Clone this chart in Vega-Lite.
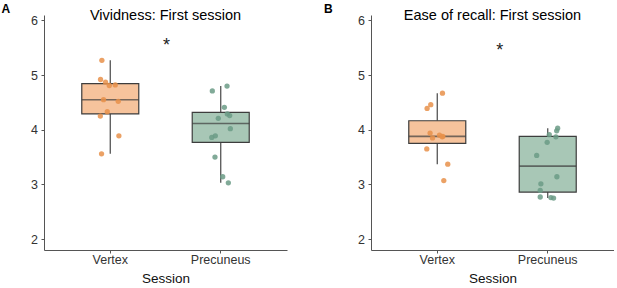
{
  "$schema": "https://vega.github.io/schema/vega-lite/v6.json",
  "padding": {"left": 1, "top": 2, "right": 0, "bottom": 0},
  "background": "white",
  "config": {
    "font": "Liberation Sans",
    "view": {"stroke": null},
    "axis": {
      "grid": false,
      "domainColor": "#555555",
      "domainWidth": 1,
      "tickColor": "#555555",
      "tickWidth": 1,
      "tickSize": 3,
      "labelColor": "#333333",
      "labelFontSize": 12.5,
      "titleFontSize": 13.5,
      "titleFontWeight": "normal",
      "titleColor": "#111111"
    }
  },
  "datasets": {
    "vivid": [
      {"session": "Vertex", "value": 5.27, "jitter": -0.076},
      {"session": "Vertex", "value": 4.92, "jitter": -0.088},
      {"session": "Vertex", "value": 4.87, "jitter": -0.043},
      {"session": "Vertex", "value": 4.81, "jitter": -0.009},
      {"session": "Vertex", "value": 4.82, "jitter": 0.045},
      {"session": "Vertex", "value": 4.55, "jitter": -0.061},
      {"session": "Vertex", "value": 4.52, "jitter": 0.072},
      {"session": "Vertex", "value": 4.33, "jitter": -0.027},
      {"session": "Vertex", "value": 4.25, "jitter": -0.090},
      {"session": "Vertex", "value": 3.89, "jitter": 0.078},
      {"session": "Vertex", "value": 3.56, "jitter": -0.079},
      {"session": "Precuneus", "value": 4.71, "jitter": -0.076},
      {"session": "Precuneus", "value": 4.80, "jitter": 0.057},
      {"session": "Precuneus", "value": 4.41, "jitter": 0.033},
      {"session": "Precuneus", "value": 4.29, "jitter": 0.060},
      {"session": "Precuneus", "value": 4.26, "jitter": 0.081},
      {"session": "Precuneus", "value": 4.21, "jitter": -0.022},
      {"session": "Precuneus", "value": 4.02, "jitter": 0.087},
      {"session": "Precuneus", "value": 3.89, "jitter": -0.049},
      {"session": "Precuneus", "value": 3.86, "jitter": -0.081},
      {"session": "Precuneus", "value": 3.50, "jitter": -0.052},
      {"session": "Precuneus", "value": 3.14, "jitter": 0.018},
      {"session": "Precuneus", "value": 3.03, "jitter": 0.069}
    ],
    "recall": [
      {"session": "Vertex", "value": 4.67, "jitter": 0.047},
      {"session": "Vertex", "value": 4.46, "jitter": -0.059},
      {"session": "Vertex", "value": 4.39, "jitter": -0.092},
      {"session": "Vertex", "value": 3.94, "jitter": -0.065},
      {"session": "Vertex", "value": 3.85, "jitter": -0.043},
      {"session": "Vertex", "value": 3.90, "jitter": 0.020},
      {"session": "Vertex", "value": 3.88, "jitter": 0.050},
      {"session": "Vertex", "value": 3.87, "jitter": 0.045},
      {"session": "Vertex", "value": 3.65, "jitter": -0.095},
      {"session": "Vertex", "value": 3.37, "jitter": 0.095},
      {"session": "Vertex", "value": 3.07, "jitter": 0.059},
      {"session": "Precuneus", "value": 4.03, "jitter": 0.090},
      {"session": "Precuneus", "value": 3.98, "jitter": 0.081},
      {"session": "Precuneus", "value": 3.91, "jitter": 0.014},
      {"session": "Precuneus", "value": 3.87, "jitter": 0.074},
      {"session": "Precuneus", "value": 3.77, "jitter": -0.005},
      {"session": "Precuneus", "value": 3.53, "jitter": -0.100},
      {"session": "Precuneus", "value": 3.14, "jitter": 0.083},
      {"session": "Precuneus", "value": 3.01, "jitter": -0.062},
      {"session": "Precuneus", "value": 2.89, "jitter": -0.068},
      {"session": "Precuneus", "value": 2.77, "jitter": -0.068},
      {"session": "Precuneus", "value": 2.76, "jitter": 0.029},
      {"session": "Precuneus", "value": 2.75, "jitter": 0.053}
    ]
  },
  "hconcat": [
    {
      "width": 243,
      "height": 235,
      "data": {"name": "vivid"},
      "title": {"text": "Vividness: First session", "fontSize": 14.5, "fontWeight": "normal", "color": "#000000", "anchor": "middle", "frame": "group", "baseline": "alphabetic", "offset": -32.5},
      "layer": [
        {
          "transform": [{"filter": "datum.session === 'Vertex'"}],
          "mark": {"type": "boxplot", "size": 57, "extent": 1.5, "outliers": false, "ticks": false,
            "box": {"fill": "#F6C39C", "stroke": "#3d3d3d", "strokeWidth": 1.2},
            "median": {"color": "#3d3d3d", "thickness": 1.6},
            "rule": {"color": "#555555", "strokeWidth": 1.3}},
          "encoding": {
            "x": {"field": "session", "type": "nominal", "scale": {"domain": ["Vertex", "Precuneus"], "type": "band", "paddingInner": 0, "paddingOuter": 0.1}, "axis": {"title": "Session", "labelAngle": 0, "labelPadding": 0, "titlePadding": 6}},
            "y": {"field": "value", "type": "quantitative", "scale": {"domain": [1.8, 6.1], "nice": false, "zero": false}, "axis": {"values": [2, 3, 4, 5, 6], "labelPadding": 3.5, "title": "A", "titleAngle": 0, "titleAlign": "left", "titleBaseline": "alphabetic", "titleX": -43, "titleY": -3, "titleFontWeight": "bold", "titleFontSize": 12, "titleColor": "#000000"}}
          }
        },
        {
          "transform": [{"filter": "datum.session === 'Precuneus'"}],
          "mark": {"type": "boxplot", "size": 57, "extent": 1.5, "outliers": false, "ticks": false,
            "box": {"fill": "#A8C7B6", "stroke": "#3d3d3d", "strokeWidth": 1.2},
            "median": {"color": "#3d3d3d", "thickness": 1.6},
            "rule": {"color": "#555555", "strokeWidth": 1.3}},
          "encoding": {
            "x": {"field": "session", "type": "nominal", "scale": {"domain": ["Vertex", "Precuneus"], "type": "band", "paddingInner": 0, "paddingOuter": 0.1}, "axis": {"title": "Session", "labelAngle": 0, "labelPadding": 0, "titlePadding": 6}},
            "y": {"field": "value", "type": "quantitative", "scale": {"domain": [1.8, 6.1], "nice": false, "zero": false}, "axis": {"values": [2, 3, 4, 5, 6], "labelPadding": 3.5, "title": "A", "titleAngle": 0, "titleAlign": "left", "titleBaseline": "alphabetic", "titleX": -43, "titleY": -3, "titleFontWeight": "bold", "titleFontSize": 12, "titleColor": "#000000"}}
          }
        },
        {
          "mark": {"type": "point", "filled": true, "size": 28, "opacity": 0.85},
          "encoding": {
            "x": {"field": "session", "type": "nominal", "scale": {"domain": ["Vertex", "Precuneus"], "type": "band", "paddingInner": 0, "paddingOuter": 0.1}, "axis": {"title": "Session", "labelAngle": 0, "labelPadding": 0, "titlePadding": 6}},
            "xOffset": {"field": "jitter", "type": "quantitative", "scale": {"domain": [-0.5, 0.5]}},
            "y": {"field": "value", "type": "quantitative", "scale": {"domain": [1.8, 6.1], "nice": false, "zero": false}, "axis": {"values": [2, 3, 4, 5, 6], "labelPadding": 3.5, "title": "A", "titleAngle": 0, "titleAlign": "left", "titleBaseline": "alphabetic", "titleX": -43, "titleY": -3, "titleFontWeight": "bold", "titleFontSize": 12, "titleColor": "#000000"}},
            "color": {"field": "session", "type": "nominal", "scale": {"domain": ["Vertex", "Precuneus"], "range": ["#E8914A", "#6B9B86"]}, "legend": null}
          }
        },
        {
          "data": {"values": [{"label": "*", "session": "Vertex", "jitter": 0.51, "value": 5.53}]},
          "mark": {"type": "text", "fontSize": 18, "baseline": "middle", "color": "#222222"},
          "encoding": {
            "x": {"field": "session", "type": "nominal", "scale": {"domain": ["Vertex", "Precuneus"], "type": "band", "paddingInner": 0, "paddingOuter": 0.1}},
            "xOffset": {"field": "jitter", "type": "quantitative", "scale": {"domain": [-0.5, 0.5]}},
            "y": {"field": "value", "type": "quantitative", "scale": {"domain": [1.8, 6.1], "nice": false, "zero": false}},
            "text": {"field": "label"}
          }
        }
      ]
    },
    {
      "width": 243,
      "height": 235,
      "data": {"name": "recall"},
      "title": {"text": "Ease of recall: First session", "fontSize": 14.5, "fontWeight": "normal", "color": "#000000", "anchor": "middle", "frame": "group", "baseline": "alphabetic", "offset": -32.5},
      "layer": [
        {
          "transform": [{"filter": "datum.session === 'Vertex'"}],
          "mark": {"type": "boxplot", "size": 57, "extent": 1.5, "outliers": false, "ticks": false,
            "box": {"fill": "#F6C39C", "stroke": "#3d3d3d", "strokeWidth": 1.2},
            "median": {"color": "#3d3d3d", "thickness": 1.6},
            "rule": {"color": "#555555", "strokeWidth": 1.3}},
          "encoding": {
            "x": {"field": "session", "type": "nominal", "scale": {"domain": ["Vertex", "Precuneus"], "type": "band", "paddingInner": 0, "paddingOuter": 0.1}, "axis": {"title": "Session", "labelAngle": 0, "labelPadding": 0, "titlePadding": 6}},
            "y": {"field": "value", "type": "quantitative", "scale": {"domain": [1.8, 6.1], "nice": false, "zero": false}, "axis": {"values": [2, 3, 4, 5, 6], "labelPadding": 3.5, "title": "B", "titleAngle": 0, "titleAlign": "left", "titleBaseline": "alphabetic", "titleX": -47.5, "titleY": -3, "titleFontWeight": "bold", "titleFontSize": 12, "titleColor": "#000000"}}
          }
        },
        {
          "transform": [{"filter": "datum.session === 'Precuneus'"}],
          "mark": {"type": "boxplot", "size": 57, "extent": 1.5, "outliers": false, "ticks": false,
            "box": {"fill": "#A8C7B6", "stroke": "#3d3d3d", "strokeWidth": 1.2},
            "median": {"color": "#3d3d3d", "thickness": 1.6},
            "rule": {"color": "#555555", "strokeWidth": 1.3}},
          "encoding": {
            "x": {"field": "session", "type": "nominal", "scale": {"domain": ["Vertex", "Precuneus"], "type": "band", "paddingInner": 0, "paddingOuter": 0.1}, "axis": {"title": "Session", "labelAngle": 0, "labelPadding": 0, "titlePadding": 6}},
            "y": {"field": "value", "type": "quantitative", "scale": {"domain": [1.8, 6.1], "nice": false, "zero": false}, "axis": {"values": [2, 3, 4, 5, 6], "labelPadding": 3.5, "title": "B", "titleAngle": 0, "titleAlign": "left", "titleBaseline": "alphabetic", "titleX": -47.5, "titleY": -3, "titleFontWeight": "bold", "titleFontSize": 12, "titleColor": "#000000"}}
          }
        },
        {
          "mark": {"type": "point", "filled": true, "size": 28, "opacity": 0.85},
          "encoding": {
            "x": {"field": "session", "type": "nominal", "scale": {"domain": ["Vertex", "Precuneus"], "type": "band", "paddingInner": 0, "paddingOuter": 0.1}, "axis": {"title": "Session", "labelAngle": 0, "labelPadding": 0, "titlePadding": 6}},
            "xOffset": {"field": "jitter", "type": "quantitative", "scale": {"domain": [-0.5, 0.5]}},
            "y": {"field": "value", "type": "quantitative", "scale": {"domain": [1.8, 6.1], "nice": false, "zero": false}, "axis": {"values": [2, 3, 4, 5, 6], "labelPadding": 3.5, "title": "B", "titleAngle": 0, "titleAlign": "left", "titleBaseline": "alphabetic", "titleX": -47.5, "titleY": -3, "titleFontWeight": "bold", "titleFontSize": 12, "titleColor": "#000000"}},
            "color": {"field": "session", "type": "nominal", "scale": {"domain": ["Vertex", "Precuneus"], "range": ["#E8914A", "#6B9B86"]}, "legend": null}
          }
        },
        {
          "data": {"values": [{"label": "*", "session": "Vertex", "jitter": 0.566, "value": 5.45}]},
          "mark": {"type": "text", "fontSize": 18, "baseline": "middle", "color": "#222222"},
          "encoding": {
            "x": {"field": "session", "type": "nominal", "scale": {"domain": ["Vertex", "Precuneus"], "type": "band", "paddingInner": 0, "paddingOuter": 0.1}},
            "xOffset": {"field": "jitter", "type": "quantitative", "scale": {"domain": [-0.5, 0.5]}},
            "y": {"field": "value", "type": "quantitative", "scale": {"domain": [1.8, 6.1], "nice": false, "zero": false}},
            "text": {"field": "label"}
          }
        }
      ]
    }
  ],
  "spacing": 84,
  "bounds": "flush"
}
